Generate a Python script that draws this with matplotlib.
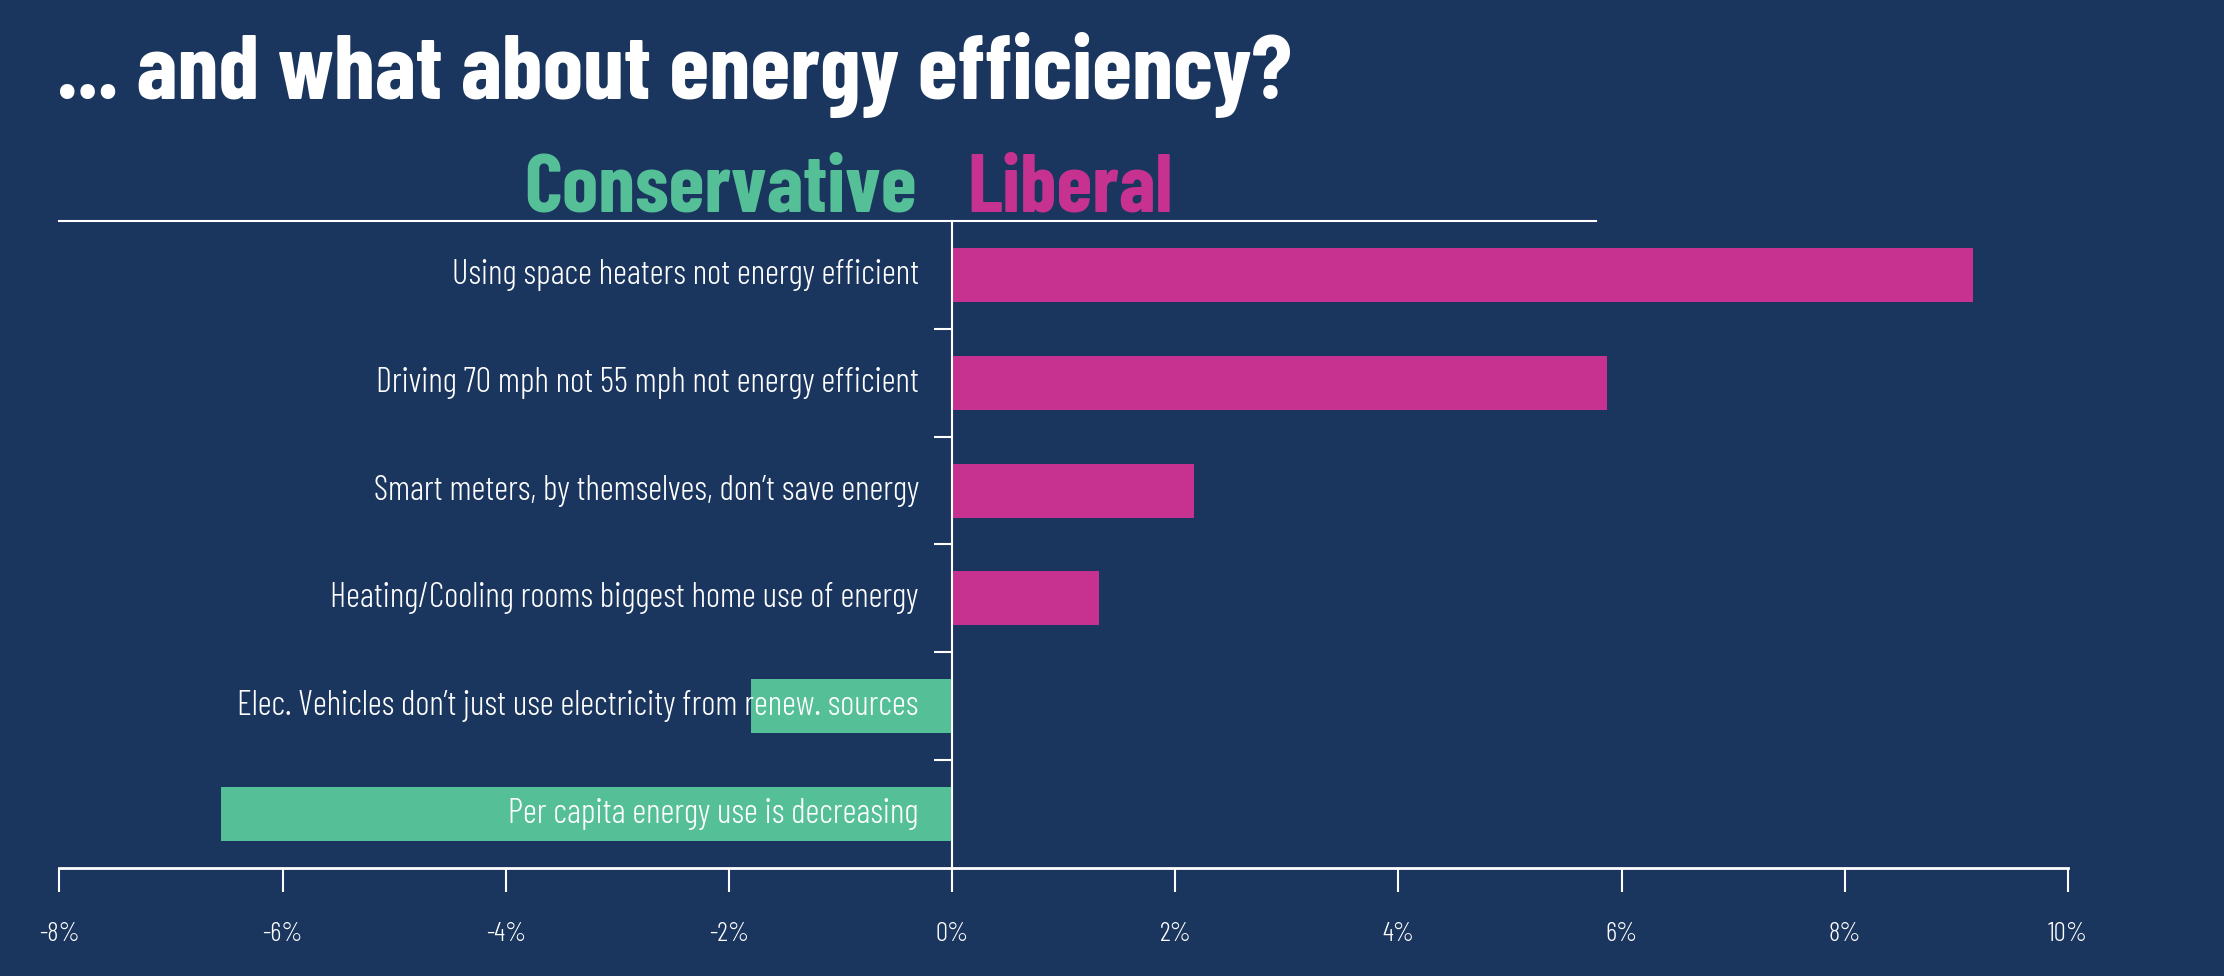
import matplotlib
matplotlib.use("Agg")
import matplotlib.pyplot as plt
from matplotlib.ticker import FixedLocator

# Data
labels = [
    "Using space heaters not energy efficient",
    "Driving 70 mph not 55 mph not energy efficient",
    "Smart meters, by themselves, don\u2019t save energy",
    "Heating/Cooling rooms biggest home use of energy",
    "Elec. Vehicles don\u2019t just use electricity from renew. sources",
    "Per capita energy use is decreasing",
]
values = [9.15, 5.87, 2.17, 1.32, -1.80, -6.55]
xticks = [-8, -6, -4, -2, 0, 2, 4, 6, 8, 10]

BG = "#1a355e"
GREEN = "#55bf97"
PINK = "#c73190"
FONT = ["Barlow Condensed", "DejaVu Sans"]

fig = plt.figure(figsize=(22.24, 9.76), dpi=100, facecolor=BG)
ax = fig.add_axes([0.02675, 0.1107, 0.9031, 0.6629], facecolor=BG)

n = len(labels)
ypos = [n - 1 - i for i in range(n)]
colors = [PINK if v > 0 else GREEN for v in values]
ax.barh(ypos, values, height=0.5, color=colors, zorder=1)

for y, lab in zip(ypos, labels):
    ax.text(-0.3, y, lab, ha="right", va="center", color="white",
            fontsize=24.8, family=FONT, fontweight=300, zorder=3)

ax.set_xlim(-8, 10)
ax.set_ylim(-0.5, n - 0.5)
ax.set_xticks(xticks)
ax.set_xticklabels([f"{t}%" for t in xticks], family=FONT, fontweight=300,
                   fontsize=19.5, color="white")
ax.tick_params(axis="x", direction="out", length=17, width=1.5, color="white", pad=22)

ax.set_yticks([])
ax.yaxis.set_minor_locator(FixedLocator([i + 0.5 for i in range(n - 1)]))
ax.tick_params(axis="y", which="minor", direction="out", length=13, width=1.5, color="white")

for s in ["top", "right"]:
    ax.spines[s].set_visible(False)
ax.spines["left"].set_position(("data", 0))
ax.spines["left"].set_color("white")
ax.spines["left"].set_linewidth(1.5)
ax.spines["bottom"].set_color("white")
ax.spines["bottom"].set_linewidth(2)

# header rule
ax.plot([0, 0.765], [1, 1], transform=ax.transAxes, color="white", lw=1.5, clip_on=False)

fig.text(57 / 2224, 1 - 99 / 976, "... and what about energy efficiency?", color="white",
         fontsize=66, fontweight="bold", family=FONT, ha="left", va="baseline")
fig.text(917 / 2224, 1 - 212 / 976, "Conservative", color=GREEN,
         fontsize=59, fontweight="bold", family=FONT, ha="right", va="baseline")
fig.text(967 / 2224, 1 - 212 / 976, "Liberal", color=PINK,
         fontsize=59, fontweight="bold", family=FONT, ha="left", va="baseline")

fig.savefig("out.png", dpi=100, facecolor=BG)
